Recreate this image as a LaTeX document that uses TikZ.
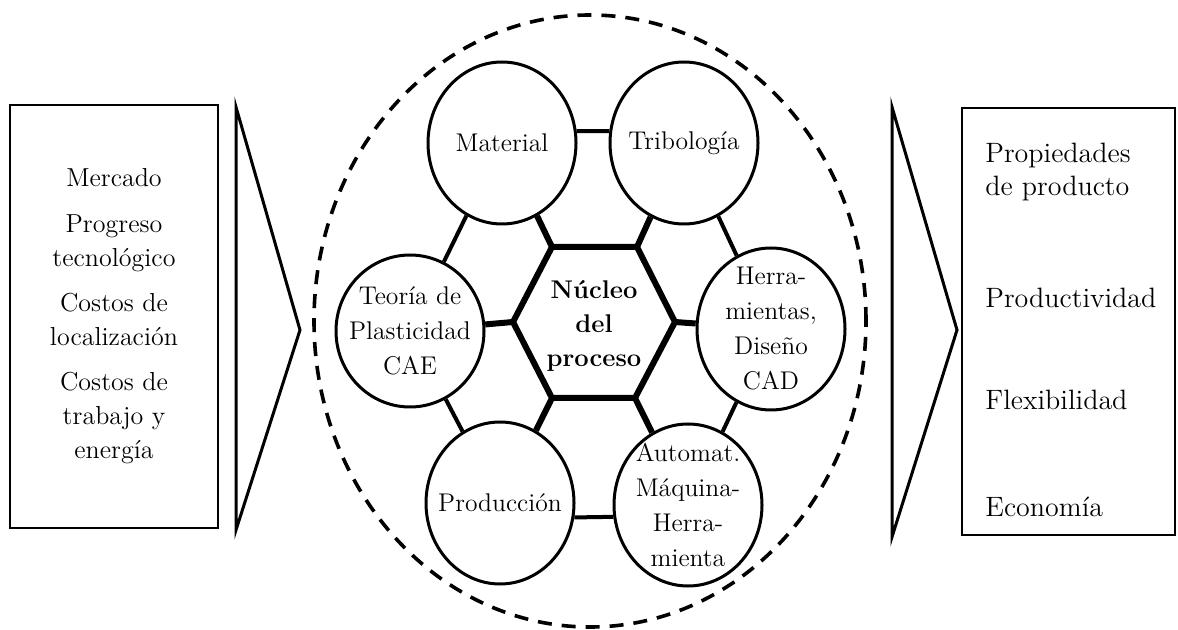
\documentclass[tikz,border=0pt]{standalone}
\usepackage{fontspec}
\usetikzlibrary{shapes.geometric}

\begin{document}
\begin{tikzpicture}[x=0.5pt,y=-0.5pt,
  disc/.style={draw,ellipse,line width=1.5pt,minimum width=74pt,minimum height=81pt,inner sep=-12pt,align=center,font=\fontsize{12.8}{17.5}\selectfont},
  link/.style={line width=2pt},
  core/.style={line width=3pt,line join=round},
  panel/.style={draw,rectangle,line width=1pt},
  wedge/.style={line width=1.5pt,line join=miter}]
  \useasboundingbox (0,0) rectangle (1178,630);
  \node[ellipse,draw,dashed,line width=1.8pt,dash pattern=on 7pt off 5pt,minimum width=276pt,minimum height=306pt] (zone) at (590,321) {};
  \node[panel,minimum width=104pt,minimum height=211.5pt,align=center,font=\fontsize{13}{17}\selectfont] (drv) at (114,316.5)
    {Mercado\\[6pt]Progreso\\tecnológico\\[5.5pt]Costos de\\localización\\[5.5pt]Costos de\\trabajo y\\energía};
  \node[panel,minimum width=106.5pt,minimum height=213.5pt] (out) at (1068.5,321.5) {};
  \draw[wedge] (236,107) -- (300,330) -- (236,530) -- cycle;
  \draw[wedge] (892,107) -- (957,330) -- (892,537) -- cycle;
  \begin{scope}[font=\fontsize{14}{16.5}\selectfont,inner sep=0pt,anchor=west]
    \node[align=left] (prop) at (985,172) {Propiedades\\de producto};
    \node (prod) at (985,298) {Productividad};
    \node (flex) at (985,400) {Flexibilidad};
    \node (econ) at (985,507) {Economía};
  \end{scope}
  \node[disc] (mat) at (502,143) {Material};
  \node[disc] (tri) at (684,143) {Tribología};
  \node[disc,minimum height=76pt] (teo) at (410,331) {Teoría de\\Plasticidad\\CAE};
  \node[disc] (her) at (771,329) {Herra-\\mientas,\\Diseño\\CAD};
  \node[disc] (pro) at (500,503) {Producción};
  \node[disc] (aut) at (688,505) {Automat.\\Máquina-\\Herra-\\mienta};
  \coordinate (h1) at (552,247);
  \coordinate (h2) at (637,247);
  \coordinate (h3) at (675,322);
  \coordinate (h4) at (635,398);
  \coordinate (h5) at (552,398);
  \coordinate (h6) at (513,322);
  \node[font=\bfseries\fontsize{12.8}{17}\selectfont,align=center] (nucleo) at (594,326) {Núcleo\\del\\proceso};
  \draw[core] (h1) -- (h2) -- (h3) -- (h4) -- (h5) -- (h6) -- cycle;
  \draw[core] (mat) -- (h1) (tri) -- (h2) (her) -- (h3) (aut) -- (h4) (pro) -- (h5) (teo) -- (h6);
  \draw[link] (mat.9) -- (tri.171) (tri) -- (her) (her) -- (aut) (aut.-171) -- (pro.-11) (pro) -- (teo) (teo) -- (mat);
\end{tikzpicture}
\end{document}
